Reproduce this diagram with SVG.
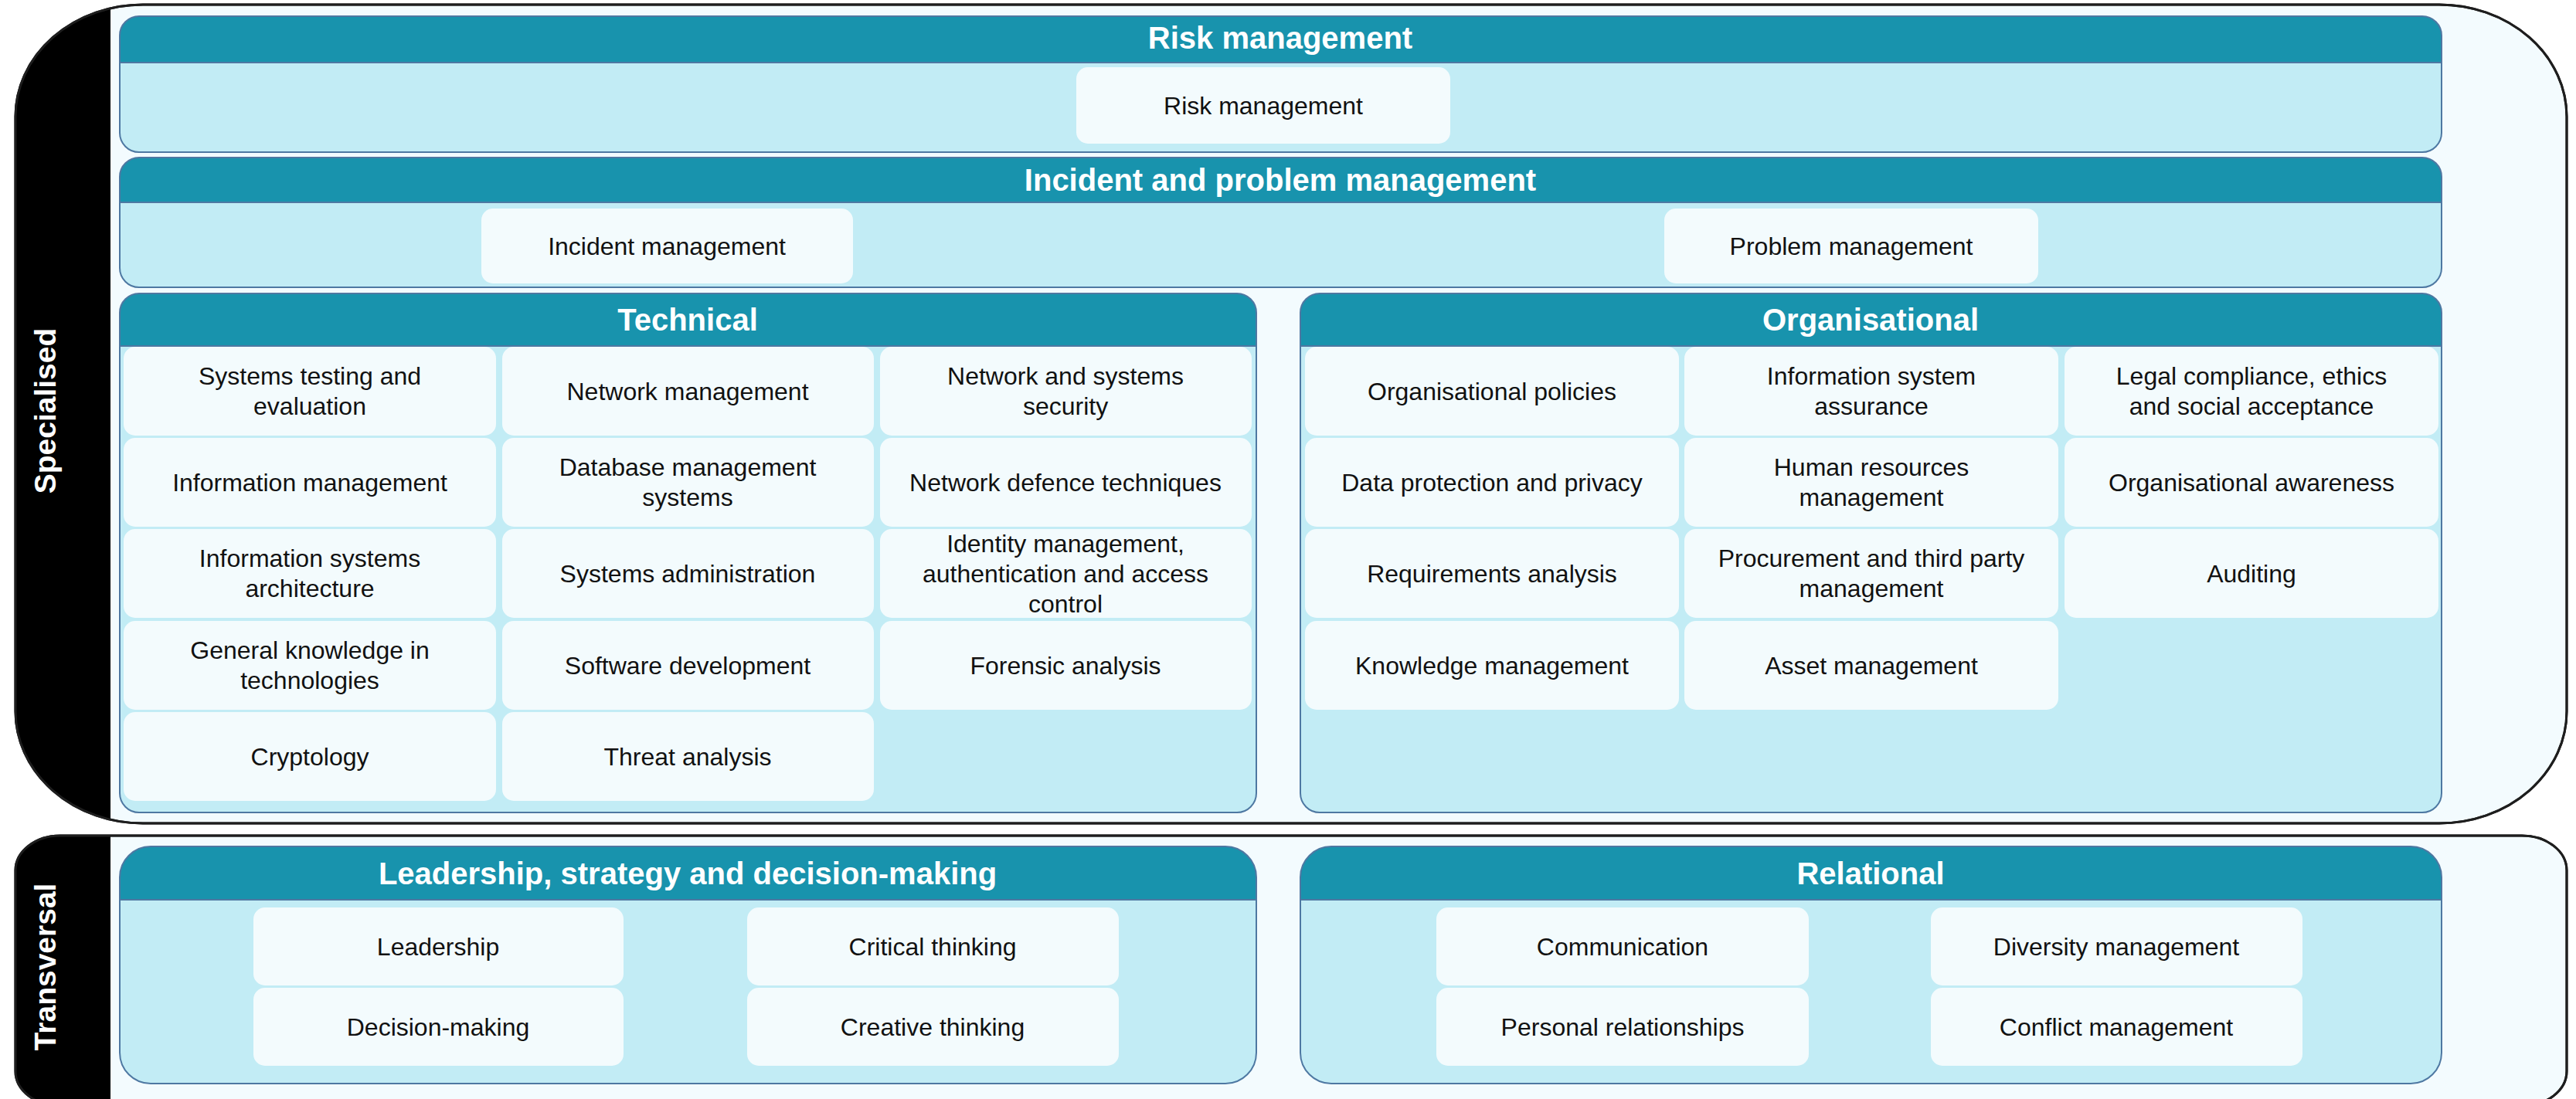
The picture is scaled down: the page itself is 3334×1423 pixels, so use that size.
<svg xmlns="http://www.w3.org/2000/svg" width="3334" height="1423" viewBox="0 0 3334 1423">
<style>
.outer{fill:#F3FBFE;stroke:#1e1e1e;stroke-width:3}
.outline{fill:none;stroke:#1e1e1e;stroke-width:3}
.tab{fill:#000}
.side{font-family:"Liberation Sans",Arial,sans-serif;font-weight:bold;font-size:39px;fill:#fff;text-anchor:middle}
.pbody{fill:#C2ECF5}
.phead{fill:#1893AD}
.pline{fill:none;stroke:#4E78A2;stroke-width:2}
.htxt{font-family:"Liberation Sans",Arial,sans-serif;font-weight:bold;font-size:40px;fill:#fff;text-anchor:middle}
.box{fill:#F3FBFD}
.itxt{font-family:"Liberation Sans",Arial,sans-serif;font-size:32px;fill:#111;text-anchor:middle}
</style>
<defs>
<clipPath id="clipSpec"><rect x="20" y="6" width="3302" height="1060" rx="165" ry="145"/></clipPath>
<clipPath id="clipTrans"><rect x="20" y="1082" width="3302" height="350" rx="58" ry="45"/></clipPath>
</defs>

<g id="specialised">
<rect class="outer" x="20" y="6" width="3302" height="1060" rx="165" ry="145"/>
<rect class="tab" x="0" y="0" width="143" height="1070" clip-path="url(#clipSpec)"/>
<rect class="outline" x="20" y="6" width="3302" height="1060" rx="165" ry="145"/>
<text class="side" transform="translate(72,532) rotate(-90)">Specialised</text>
</g>

<g id="transversal">
<rect class="outer" x="20" y="1082" width="3302" height="350" rx="58" ry="45"/>
<rect class="tab" x="0" y="1078" width="143" height="360" clip-path="url(#clipTrans)"/>
<rect class="outline" x="20" y="1082" width="3302" height="350" rx="58" ry="45"/>
<text class="side" transform="translate(72,1252) rotate(-90)">Transversal</text>
</g>

<g id="panel-risk">
<rect class="pbody" x="155" y="21" width="3005" height="176" rx="25"/>
<path class="phead" d="M155,81 V46 A25,25 0 0 1 180,21 H3135 A25,25 0 0 1 3160,46 V81 Z"/>
<line class="pline" x1="155" y1="81" x2="3160" y2="81"/>
<rect class="pline" x="155" y="21" width="3005" height="176" rx="25"/>
<text class="htxt" x="1657" y="63">Risk management</text>
</g>

<g id="panel-incident">
<rect class="pbody" x="155" y="204" width="3005" height="168" rx="25"/>
<path class="phead" d="M155,262 V229 A25,25 0 0 1 180,204 H3135 A25,25 0 0 1 3160,229 V262 Z"/>
<line class="pline" x1="155" y1="262" x2="3160" y2="262"/>
<rect class="pline" x="155" y="204" width="3005" height="168" rx="25"/>
<text class="htxt" x="1657" y="247">Incident and problem management</text>
</g>

<g id="panel-technical">
<rect class="pbody" x="155" y="380" width="1471" height="672" rx="25"/>
<path class="phead" d="M155,448 V405 A25,25 0 0 1 180,380 H1601 A25,25 0 0 1 1626,405 V448 Z"/>
<line class="pline" x1="155" y1="448" x2="1626" y2="448"/>
<rect class="pline" x="155" y="380" width="1471" height="672" rx="25"/>
<text class="htxt" x="890" y="428">Technical</text>
</g>

<g id="panel-organisational">
<rect class="pbody" x="1683" y="380" width="1477" height="672" rx="25"/>
<path class="phead" d="M1683,448 V405 A25,25 0 0 1 1708,380 H3135 A25,25 0 0 1 3160,405 V448 Z"/>
<line class="pline" x1="1683" y1="448" x2="3160" y2="448"/>
<rect class="pline" x="1683" y="380" width="1477" height="672" rx="25"/>
<text class="htxt" x="2421" y="428">Organisational</text>
</g>

<g id="panel-leadership">
<rect class="pbody" x="155" y="1096" width="1471" height="307" rx="40"/>
<path class="phead" d="M155,1165 V1136 A40,40 0 0 1 195,1096 H1586 A40,40 0 0 1 1626,1136 V1165 Z"/>
<line class="pline" x1="155" y1="1165" x2="1626" y2="1165"/>
<rect class="pline" x="155" y="1096" width="1471" height="307" rx="40"/>
<text class="htxt" x="890" y="1145">Leadership, strategy and decision-making</text>
</g>

<g id="panel-relational">
<rect class="pbody" x="1683" y="1096" width="1477" height="307" rx="40"/>
<path class="phead" d="M1683,1165 V1136 A40,40 0 0 1 1723,1096 H3120 A40,40 0 0 1 3160,1136 V1165 Z"/>
<line class="pline" x1="1683" y1="1165" x2="3160" y2="1165"/>
<rect class="pline" x="1683" y="1096" width="1477" height="307" rx="40"/>
<text class="htxt" x="2421" y="1145">Relational</text>
</g>

<g id="item-risk-management"><rect class="box" x="1393" y="87" width="484" height="99" rx="15"/><text class="itxt" x="1635" y="148">Risk management</text></g>
<g id="item-incident-management"><rect class="box" x="623" y="270" width="481" height="97" rx="15"/><text class="itxt" x="863" y="330">Incident management</text></g>
<g id="item-problem-management"><rect class="box" x="2154" y="270" width="484" height="97" rx="15"/><text class="itxt" x="2396" y="330">Problem management</text></g>

<g id="item-systems-testing"><rect class="box" x="160" y="449" width="482" height="115" rx="15"/><text class="itxt" x="401" y="498">Systems testing and</text><text class="itxt" x="401" y="537">evaluation</text></g>
<g id="item-network-management"><rect class="box" x="650" y="449" width="481" height="115" rx="15"/><text class="itxt" x="890" y="518">Network management</text></g>
<g id="item-network-systems-security"><rect class="box" x="1139" y="449" width="481" height="115" rx="15"/><text class="itxt" x="1379" y="498">Network and systems</text><text class="itxt" x="1379" y="537">security</text></g>

<g id="item-information-management"><rect class="box" x="160" y="567" width="482" height="115" rx="15"/><text class="itxt" x="401" y="636">Information management</text></g>
<g id="item-database-management"><rect class="box" x="650" y="567" width="481" height="115" rx="15"/><text class="itxt" x="890" y="616">Database management</text><text class="itxt" x="890" y="655">systems</text></g>
<g id="item-network-defence"><rect class="box" x="1139" y="567" width="481" height="115" rx="15"/><text class="itxt" x="1379" y="636">Network defence techniques</text></g>

<g id="item-is-architecture"><rect class="box" x="160" y="685" width="482" height="115" rx="15"/><text class="itxt" x="401" y="734">Information systems</text><text class="itxt" x="401" y="773">architecture</text></g>
<g id="item-systems-administration"><rect class="box" x="650" y="685" width="481" height="115" rx="15"/><text class="itxt" x="890" y="754">Systems administration</text></g>
<g id="item-identity-management"><rect class="box" x="1139" y="685" width="481" height="115" rx="15"/><text class="itxt" x="1379" y="715">Identity management,</text><text class="itxt" x="1379" y="754">authentication and access</text><text class="itxt" x="1379" y="793">control</text></g>

<g id="item-general-knowledge"><rect class="box" x="160" y="804" width="482" height="115" rx="15"/><text class="itxt" x="401" y="853">General knowledge in</text><text class="itxt" x="401" y="892">technologies</text></g>
<g id="item-software-development"><rect class="box" x="650" y="804" width="481" height="115" rx="15"/><text class="itxt" x="890" y="873">Software development</text></g>
<g id="item-forensic-analysis"><rect class="box" x="1139" y="804" width="481" height="115" rx="15"/><text class="itxt" x="1379" y="873">Forensic analysis</text></g>

<g id="item-cryptology"><rect class="box" x="160" y="922" width="482" height="115" rx="15"/><text class="itxt" x="401" y="991">Cryptology</text></g>
<g id="item-threat-analysis"><rect class="box" x="650" y="922" width="481" height="115" rx="15"/><text class="itxt" x="890" y="991">Threat analysis</text></g>

<g id="item-organisational-policies"><rect class="box" x="1689" y="449" width="484" height="115" rx="15"/><text class="itxt" x="1931" y="518">Organisational policies</text></g>
<g id="item-is-assurance"><rect class="box" x="2180" y="449" width="484" height="115" rx="15"/><text class="itxt" x="2422" y="498">Information system</text><text class="itxt" x="2422" y="537">assurance</text></g>
<g id="item-legal-compliance"><rect class="box" x="2672" y="449" width="484" height="115" rx="15"/><text class="itxt" x="2914" y="498">Legal compliance, ethics</text><text class="itxt" x="2914" y="537">and social acceptance</text></g>

<g id="item-data-protection"><rect class="box" x="1689" y="567" width="484" height="115" rx="15"/><text class="itxt" x="1931" y="636">Data protection and privacy</text></g>
<g id="item-human-resources"><rect class="box" x="2180" y="567" width="484" height="115" rx="15"/><text class="itxt" x="2422" y="616">Human resources</text><text class="itxt" x="2422" y="655">management</text></g>
<g id="item-organisational-awareness"><rect class="box" x="2672" y="567" width="484" height="115" rx="15"/><text class="itxt" x="2914" y="636">Organisational awareness</text></g>

<g id="item-requirements-analysis"><rect class="box" x="1689" y="685" width="484" height="115" rx="15"/><text class="itxt" x="1931" y="754">Requirements analysis</text></g>
<g id="item-procurement"><rect class="box" x="2180" y="685" width="484" height="115" rx="15"/><text class="itxt" x="2422" y="734">Procurement and third party</text><text class="itxt" x="2422" y="773">management</text></g>
<g id="item-auditing"><rect class="box" x="2672" y="685" width="484" height="115" rx="15"/><text class="itxt" x="2914" y="754">Auditing</text></g>

<g id="item-knowledge-management"><rect class="box" x="1689" y="804" width="484" height="115" rx="15"/><text class="itxt" x="1931" y="873">Knowledge management</text></g>
<g id="item-asset-management"><rect class="box" x="2180" y="804" width="484" height="115" rx="15"/><text class="itxt" x="2422" y="873">Asset management</text></g>

<g id="item-leadership"><rect class="box" x="328" y="1175" width="479" height="101" rx="15"/><text class="itxt" x="567" y="1237">Leadership</text></g>
<g id="item-decision-making"><rect class="box" x="328" y="1279" width="479" height="101" rx="15"/><text class="itxt" x="567" y="1341">Decision-making</text></g>
<g id="item-critical-thinking"><rect class="box" x="967" y="1175" width="481" height="101" rx="15"/><text class="itxt" x="1207" y="1237">Critical thinking</text></g>
<g id="item-creative-thinking"><rect class="box" x="967" y="1279" width="481" height="101" rx="15"/><text class="itxt" x="1207" y="1341">Creative thinking</text></g>

<g id="item-communication"><rect class="box" x="1859" y="1175" width="482" height="101" rx="15"/><text class="itxt" x="2100" y="1237">Communication</text></g>
<g id="item-personal-relationships"><rect class="box" x="1859" y="1279" width="482" height="101" rx="15"/><text class="itxt" x="2100" y="1341">Personal relationships</text></g>
<g id="item-diversity-management"><rect class="box" x="2499" y="1175" width="481" height="101" rx="15"/><text class="itxt" x="2739" y="1237">Diversity management</text></g>
<g id="item-conflict-management"><rect class="box" x="2499" y="1279" width="481" height="101" rx="15"/><text class="itxt" x="2739" y="1341">Conflict management</text></g>

<g id="connectors"></g>
</svg>
